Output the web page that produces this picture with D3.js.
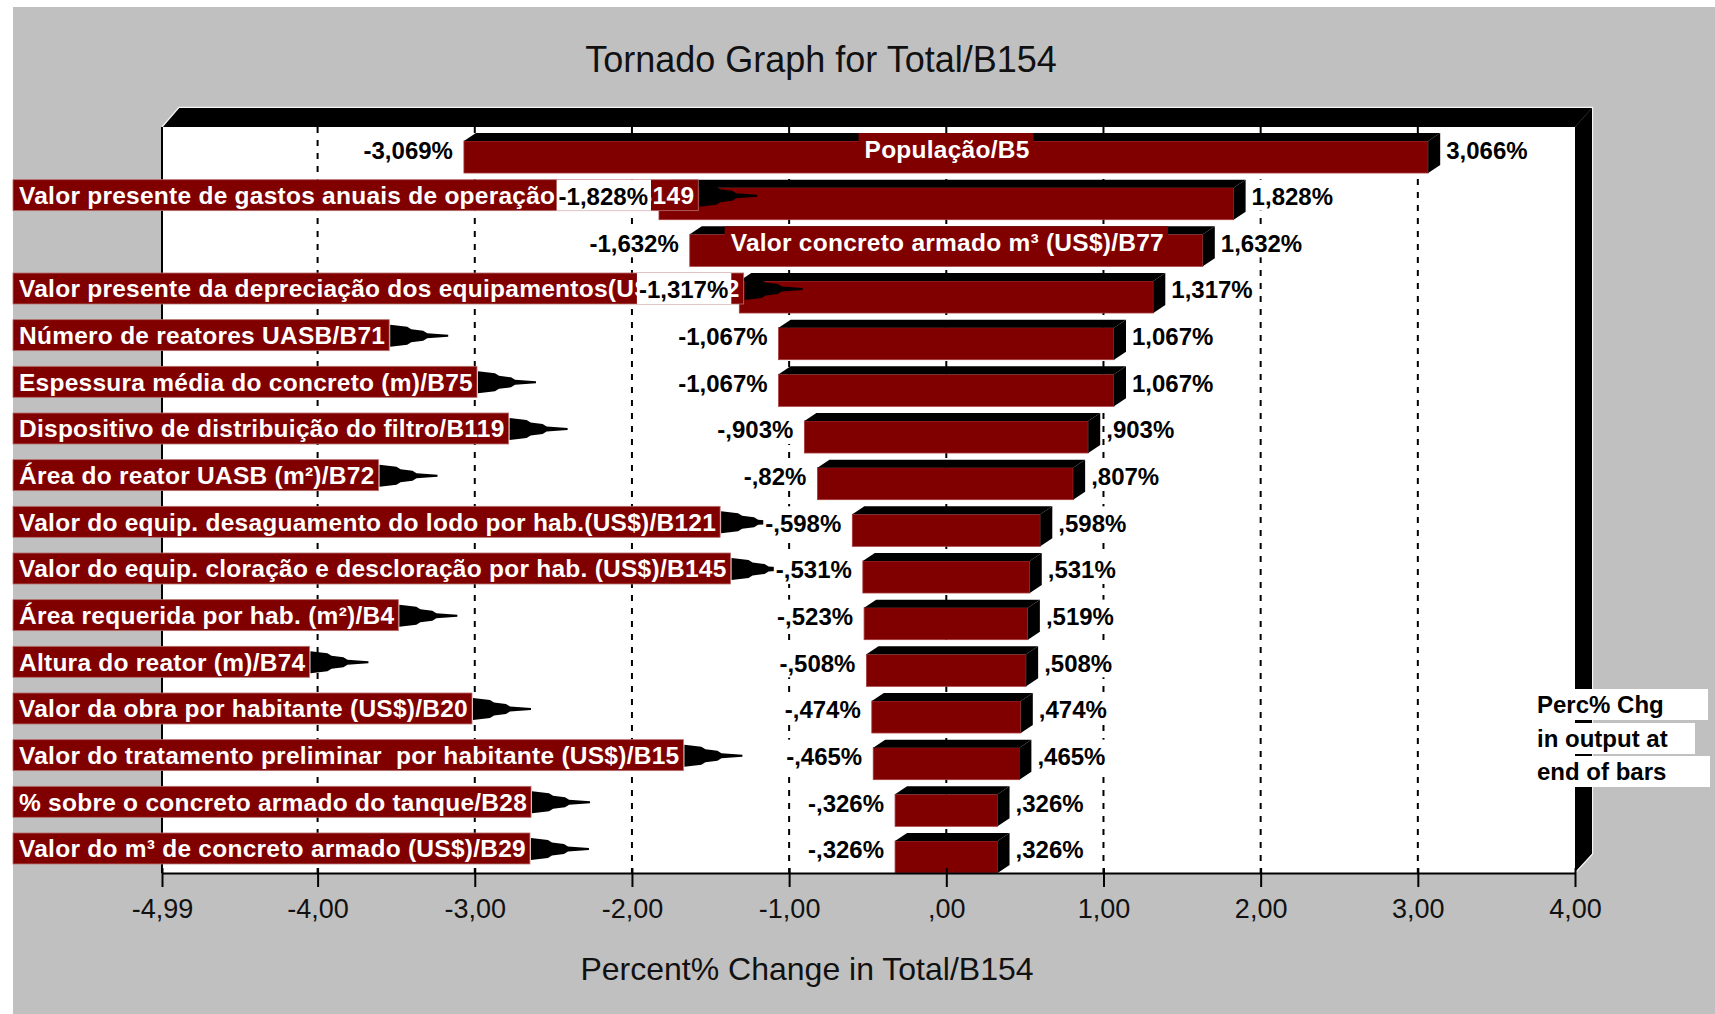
<!DOCTYPE html>
<html><head><meta charset="utf-8">
<script src="https://cdn.jsdelivr.net/npm/d3@7"></script>
<style>html,body{margin:0;padding:0;background:#fff;} svg{display:block;}</style>
</head><body>
<svg id="chart" width="1715" height="1014"></svg>
<script>
// ---------------- data ----------------
const categories = [
  "População/B5",
  "Valor presente de gastos anuais de operação (US$)/B149",
  "Valor concreto armado m³ (US$)/B77",
  "Valor presente da depreciação dos equipamentos(US$)/B152",
  "Número de reatores UASB/B71",
  "Espessura média do concreto (m)/B75",
  "Dispositivo de distribuição do filtro/B119",
  "Área do reator UASB (m²)/B72",
  "Valor do equip. desaguamento do lodo por hab.(US$)/B121",
  "Valor do equip. cloração e descloração por hab. (US$)/B145",
  "Área requerida por hab. (m²)/B4",
  "Altura do reator (m)/B74",
  "Valor da obra por habitante (US$)/B20",
  "Valor do tratamento preliminar  por habitante (US$)/B15",
  "% sobre o concreto armado do tanque/B28",
  "Valor do m³ de concreto armado (US$)/B29"
];
const lowValues  = [-3.069, -1.828, -1.632, -1.317, -1.067, -1.067, -0.903, -0.82, -0.598, -0.531, -0.523, -0.508, -0.474, -0.465, -0.326, -0.326];
const highValues = [ 3.066,  1.828,  1.632,  1.317,  1.067,  1.067,  0.903, 0.807, 0.598,  0.531,  0.519,  0.508,  0.474,  0.465,  0.326,  0.326];
const tickValues = [-4.99, -4, -3, -2, -1, 0, 1, 2, 3, 4];
const tickLabels = ["-4,99", "-4,00", "-3,00", "-2,00", "-1,00", ",00", "1,00", "2,00", "3,00", "4,00"];
const titleText = "Tornado Graph for Total/B154";
const xAxisTitle = "Percent% Change in Total/B154";
const legendLines = ["Perc% Chg", "in output at", "end of bars"];

// ---------------- layout ----------------
const W = 1715, H = 1014;
const FONT = "'Liberation Sans', Arial, Helvetica, sans-serif";
const plot = {left: 162, right: 1575, top: 127, bottom: 873};
const wall = {dx: 17, dy: 19};
const bd = {dx: 12, dy: 8};
const RED = "#800000";
const LAB_SIZE = 24.5, LAB_LS = 0.25;

const svg = d3.select("#chart");
const x = d3.scaleLinear().domain([tickValues[0], tickValues[tickValues.length - 1]]).range([plot.left, plot.right]);
const y = d3.scaleBand().domain(categories).range([133, plot.bottom]).paddingInner(0.1424).paddingOuter(0);
const bw = y.bandwidth();

const rows = categories.map((c, i) => ({cat: c, lo: lowValues[i], hi: highValues[i]}));

function fmt(v) {
  let s = Math.abs(v).toFixed(3).replace(/0+$/, "").replace(/\.$/, "");
  s = s.replace(/^0(?=\.)/, "").replace(".", ",");
  return (v < 0 ? "-" : "") + s + "%";
}

// background
svg.append("rect").attr("x", 0).attr("y", 0).attr("width", W).attr("height", H).attr("fill", "#fff");
svg.append("rect").attr("x", 13).attr("y", 7).attr("width", W - 13).attr("height", H - 7).attr("fill", "#c0c0c0");

// plot area
svg.append("rect").attr("x", plot.left).attr("y", plot.top)
  .attr("width", plot.right - plot.left).attr("height", plot.bottom - plot.top).attr("fill", "#fff");

// 3D frame: top floor and right wall
svg.append("polygon").attr("fill", "#000").attr("points", [
  [plot.left, plot.top], [plot.left + wall.dx, plot.top - wall.dy],
  [plot.right + wall.dx, plot.top - wall.dy], [plot.right, plot.top]].join(" "));
svg.append("polygon").attr("fill", "#000").attr("points", [
  [plot.right, plot.top], [plot.right + wall.dx, plot.top - wall.dy],
  [plot.right + wall.dx, plot.bottom - wall.dy], [plot.right, plot.bottom]].join(" "));
svg.append("polyline").attr("fill", "none").attr("stroke", "#f4f4f4").attr("stroke-width", 1.2)
  .attr("points", [[plot.left, plot.top], [plot.left + wall.dx, plot.top - wall.dy - 0.6],
    [plot.right + wall.dx + 0.6, plot.top - wall.dy - 0.6], [plot.right + wall.dx + 0.6, plot.bottom - wall.dy],
    [plot.right, plot.bottom]].join(" "));
svg.append("line").attr("x1", plot.left).attr("x2", plot.left).attr("y1", plot.top).attr("y2", plot.bottom)
  .attr("stroke", "#000").attr("stroke-width", 2);

// grid lines
svg.append("g").selectAll("line")
  .data(tickValues.filter(t => t > x.domain()[0] && t < x.domain()[1]))
  .join("line")
  .attr("x1", d => x(d)).attr("x2", d => x(d))
  .attr("y1", plot.top).attr("y2", plot.bottom)
  .attr("stroke", "#000").attr("stroke-width", 2).attr("stroke-dasharray", "6,7");

// bars (3D)
const gBars = svg.append("g");
rows.forEach(r => {
  const t = y(r.cat), x0 = x(r.lo), x1 = x(r.hi);
  gBars.append("rect").attr("x", x0).attr("y", t + bd.dy).attr("width", x1 - x0).attr("height", bw - bd.dy)
    .attr("fill", RED).attr("stroke", "#a83a3a").attr("stroke-width", 0.8);
  gBars.append("polygon").attr("fill", "#000").attr("points",
    [[x0, t + bd.dy], [x0 + bd.dx, t], [x1 + bd.dx, t], [x1, t + bd.dy]].join(" "));
  gBars.append("polygon").attr("fill", "#000").attr("points",
    [[x1, t + bd.dy], [x1 + bd.dx, t], [x1 + bd.dx, t + bw - bd.dy], [x1, t + bw]].join(" "));
});

// axis
const axis = d3.axisBottom(x).tickValues(tickValues).tickFormat((d, i) => tickLabels[i])
  .tickSizeInner(14).tickSizeOuter(0).tickPadding(12);
const gAxis = svg.append("g").attr("transform", `translate(0,${plot.bottom})`).call(axis);
gAxis.select(".domain").attr("stroke", "#000").attr("stroke-width", 2);
gAxis.selectAll(".tick line").attr("stroke", "#000").attr("stroke-width", 2).attr("y1", -5);
gAxis.selectAll(".tick text").attr("font-family", FONT).attr("font-size", 27).attr("fill", "#111")
  .attr("dy", "0.71em");

// measuring helper
const meas = svg.append("text").attr("font-family", FONT).attr("font-weight", "bold")
  .attr("visibility", "hidden").style("white-space", "pre");
function tw(s, size, ls) {
  meas.attr("font-size", size).attr("letter-spacing", ls || 0).text(s);
  return meas.node().getComputedTextLength();
}

// category labels
const gLab = svg.append("g");
const gArrow = svg.append("g");
rows.forEach(r => {
  const t = y(r.cat), x0 = x(r.lo), x1 = x(r.hi);
  const w = tw(r.cat, LAB_SIZE, LAB_LS);
  const inside = w + 12 < (x1 - x0);
  const bx = inside ? (x0 + x1) / 2 - (w + 10) / 2 : 13;
  gLab.append("rect").attr("x", bx).attr("y", t).attr("width", w + 10).attr("height", 31)
    .attr("fill", RED).attr("stroke", inside ? "none" : "#b87070").attr("stroke-width", 0.8);
  gLab.append("text").attr("x", bx + 6).attr("y", t + 24.5).attr("font-family", FONT)
    .attr("font-weight", "bold").attr("font-size", LAB_SIZE).attr("letter-spacing", LAB_LS)
    .attr("fill", "#fff").style("white-space", "pre").text(r.cat);
  if (!inside) {
    const ax = bx + w + 11, cy = t + 16;
    gArrow.append("polygon").attr("fill", "#000").attr("points",
      [[ax, cy - 11], [ax + 17, cy - 9], [ax + 21, cy - 6.5], [ax + 33, cy - 5], [ax + 37, cy - 2.5], [ax + 58, cy - 1],
       [ax + 58, cy + 1], [ax + 37, cy + 2.5], [ax + 33, cy + 5], [ax + 21, cy + 6.5], [ax + 17, cy + 9], [ax, cy + 11]].join(" "));
  }
});

// value labels
const gVal = svg.append("g");
rows.forEach(r => {
  const t = y(r.cat), x0 = x(r.lo), x1 = x(r.hi);
  const sl = fmt(r.lo), sh = fmt(r.hi);
  const wl = tw(sl, 24, 0), wh = tw(sh, 24, 0);
  gVal.append("rect").attr("x", x0 - 11 - wl - 2).attr("y", t).attr("width", wl + 5).attr("height", 31).attr("fill", "#fff");
  gVal.append("text").attr("x", x0 - 11).attr("y", t + 25.5).attr("text-anchor", "end")
    .attr("font-family", FONT).attr("font-weight", "bold").attr("font-size", 24).attr("fill", "#000").text(sl);
  gVal.append("rect").attr("x", x1 + 17).attr("y", t).attr("width", wh + 4).attr("height", 31).attr("fill", "#fff");
  gVal.append("text").attr("x", x1 + 18).attr("y", t + 25.5)
    .attr("font-family", FONT).attr("font-weight", "bold").attr("font-size", 24).attr("fill", "#000").text(sh);
});

// legend note
const legRight = [1708, 1695, 1710];
const legTop = [689, 723, 756];
legendLines.forEach((s, i) => {
  svg.append("rect").attr("x", 1535).attr("y", legTop[i]).attr("width", legRight[i] - 1535).attr("height", 31).attr("fill", "#fff");
  svg.append("text").attr("x", 1537).attr("y", legTop[i] + 24).attr("font-family", FONT)
    .attr("font-weight", "bold").attr("font-size", 24).attr("fill", "#000").text(s);
});

// titles
svg.append("text").attr("x", 821).attr("y", 72).attr("text-anchor", "middle").attr("font-family", FONT)
  .attr("font-size", 36).attr("fill", "#111").text(titleText);
svg.append("text").attr("x", 807).attr("y", 980).attr("text-anchor", "middle").attr("font-family", FONT)
  .attr("font-size", 32).attr("fill", "#111").text(xAxisTitle);
meas.remove();
</script>
</body></html>
